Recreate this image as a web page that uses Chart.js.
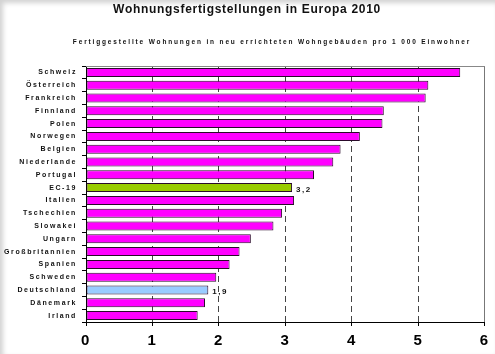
<!DOCTYPE html>
<html><head><meta charset="utf-8">
<script src="https://cdn.jsdelivr.net/npm/chart.js@4/dist/chart.umd.min.js"></script>
<style>
html,body{margin:0;padding:0;background:#fff;}
#wrap{position:relative;width:495px;height:354px;box-shadow:inset 3px 3px 5px rgba(0,0,0,0.18);}
canvas{display:block;}
</style></head>
<body><div id="wrap"><canvas id="c" width="495" height="354"></canvas></div>
<script>
const titleText = 'Wohnungsfertigstellungen in Europa 2010';
const subtitleText = 'Fertiggestellte Wohnungen in neu errichteten Wohngebäuden pro 1 000 Einwohner';
const categories = ['Schweiz','Österreich','Frankreich','Finnland','Polen','Norwegen','Belgien','Niederlande','Portugal','EC-19','Italien','Tschechien','Slowakei','Ungarn','Großbritannien','Spanien','Schweden','Deutschland','Dänemark','Irland'];
const values = [5.63,5.15,5.11,4.48,4.46,4.12,3.83,3.72,3.43,3.10,3.13,2.95,2.82,2.48,2.31,2.16,1.96,1.84,1.79,1.68];
const valueLabels = ['','','','','','','','','','3,2','','','','','','','','1,9','',''];
const xTicks = [0,1,2,3,4,5,6];

const barColors = categories.map(c => c === 'EC-19' ? '#99cc00' : (c === 'Deutschland' ? '#99ccff' : '#ff00ff'));

const textPlugin = {
  id: 'texts',
  beforeDraw(chart) { chart.ctx.letterSpacing = '1.6px'; },
  afterDraw(chart) {
    const ctx = chart.ctx;
    ctx.save();
    ctx.fillStyle = '#111';
    ctx.textAlign = 'center';
    ctx.textBaseline = 'middle';
    ctx.font = 'bold 12px "Liberation Sans", Arial, sans-serif';
    ctx.letterSpacing = '0.7px';
    ctx.fillText(titleText, 247, 10);
    ctx.font = 'bold 6.5px "Liberation Sans", Arial, sans-serif';
    ctx.letterSpacing = '1.85px';
    ctx.fillText(subtitleText, 272, 42);
    // value labels next to bars
    ctx.textAlign = 'left';
    ctx.font = 'bold 8px "Liberation Sans", Arial, sans-serif';
    ctx.letterSpacing = '1.5px';
    const meta = chart.getDatasetMeta(0);
    meta.data.forEach((bar, i) => {
      if (valueLabels[i]) ctx.fillText(valueLabels[i], bar.x + 4, bar.y + 2);
    });
    // top frame line
    const a = chart.chartArea;
    ctx.strokeStyle = '#888';
    ctx.lineWidth = 1;
    ctx.beginPath();
    ctx.moveTo(a.left, a.top + 0.5);
    ctx.lineTo(a.right, a.top + 0.5);
    ctx.stroke();
    ctx.restore();
    ctx.letterSpacing = '0px';
  }
};

new Chart(document.getElementById('c'), {
  type: 'bar',
  data: {
    labels: categories,
    datasets: [{
      data: values,
      backgroundColor: barColors,
      borderColor: '#2a0a2a',
      borderWidth: 1,
      borderSkipped: false,
      barPercentage: 0.7,
      categoryPercentage: 1
    }]
  },
  options: {
    indexAxis: 'y',
    responsive: false,
    animation: false,
    devicePixelRatio: 1,
    layout: { padding: { left: 0, right: 5, top: 66, bottom: 0 } },
    plugins: { legend: { display: false }, tooltip: { enabled: false }, title: { display: false } },
    scales: {
      x: {
        min: 0, max: 6,
        afterBuildTicks: s => { s.ticks = xTicks.map(v => ({ value: v })); },
        afterFit: s => { s.height = 32; },
        grid: {
          color: ctx => ctx.tick && ctx.tick.value === 0 ? 'rgba(0,0,0,0)' : (ctx.tick && ctx.tick.value === 6 ? '#777' : '#444'),
          lineWidth: 1,
          drawTicks: true,
          tickLength: 4,
          tickColor: '#000'
        },
        border: {
          display: true, color: '#000', width: 1,
          dash: ctx => ctx.tick && ctx.tick.value === 6 ? [] : [6, 4]
        },
        ticks: {
          color: '#000',
          padding: 6,
          font: { family: '"Liberation Sans", Arial, sans-serif', size: 15, weight: 'bold' },
          callback: v => String(v)
        }
      },
      y: {
        afterFit: s => { s.width = 86; },
        grid: {
          offset: true,
          drawOnChartArea: false,
          drawTicks: true,
          tickLength: 4,
          tickColor: '#000',
          color: '#000'
        },
        border: { display: true, color: '#000', width: 1 },
        ticks: {
          color: '#111',
          padding: 5,
          autoSkip: false,
          font: { family: '"Liberation Sans", Arial, sans-serif', size: 7, weight: 'bold' }
        }
      }
    }
  },
  plugins: [textPlugin]
});
</script>
</body></html>
